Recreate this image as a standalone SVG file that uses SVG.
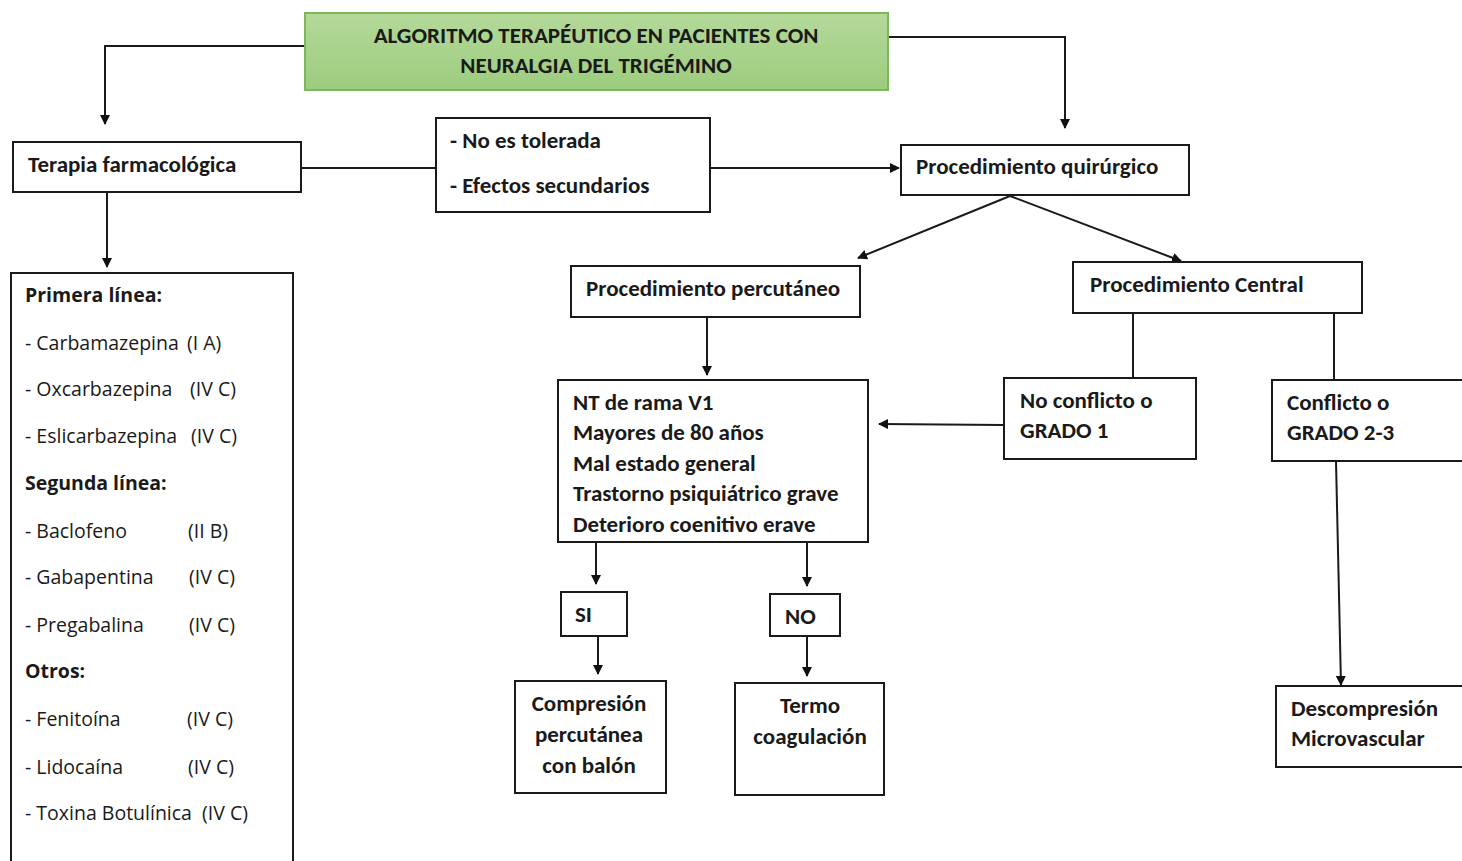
<svg xmlns="http://www.w3.org/2000/svg" width="1462" height="861" viewBox="0 0 1462 861">
<defs>
<linearGradient id="g" x1="0" y1="0" x2="0" y2="1">
<stop offset="0" stop-color="#b4d99a"/>
<stop offset="1" stop-color="#9ccc7e"/>
</linearGradient>
<marker id="a" viewBox="0 0 10 10" refX="9" refY="5" markerWidth="10" markerHeight="10" markerUnits="userSpaceOnUse" orient="auto">
<path d="M0,0 L10,5 L0,10 z" fill="#111"/>
</marker>
<style>
.b{fill:#fff;stroke:#1a1a1a;stroke-width:2}
.t{font-family:Carlito,"Liberation Sans Narrow","Liberation Sans",sans-serif;font-size:23px;font-weight:bold;fill:#1a1a1a}
.l{font-family:"Open Sans","DejaVu Sans",sans-serif;font-size:19.5px;fill:#1a1a1a}
.lb{font-weight:bold}
.c{fill:none;stroke:#1a1a1a;stroke-width:2}
</style>
</defs>
<rect width="1462" height="861" fill="#fff"/>
<g id="connectors">
<path class="c" d="M305,46 H105 V124" marker-end="url(#a)"/>
<path class="c" d="M888,37 H1065 V128" marker-end="url(#a)"/>
<path class="c" d="M301,168 H436"/>
<path class="c" d="M710,168 H899" marker-end="url(#a)"/>
<path class="c" d="M107,192 V267" marker-end="url(#a)"/>
<path class="c" d="M1010,196 L858,258" marker-end="url(#a)"/>
<path class="c" d="M1010,196 L1181,261" marker-end="url(#a)"/>
<path class="c" d="M707,317 V375" marker-end="url(#a)"/>
<path class="c" d="M1133,313 V378"/>
<path class="c" d="M1334,313 V380"/>
<path class="c" d="M1004,425 L879,424" marker-end="url(#a)"/>
<path class="c" d="M1336,461 L1341,685" marker-end="url(#a)"/>
<path class="c" d="M596,542 V584" marker-end="url(#a)"/>
<path class="c" d="M807,542 V586" marker-end="url(#a)"/>
<path class="c" d="M598,636 V674" marker-end="url(#a)"/>
<path class="c" d="M807,636 V676" marker-end="url(#a)"/>
</g>
<g id="title">
<rect x="305" y="13" width="583" height="77" fill="url(#g)" stroke="#7cb85a" stroke-width="2"/>
<text class="t" x="596" y="43" text-anchor="middle">ALGORITMO TERAPÉUTICO EN PACIENTES CON</text>
<text class="t" x="596" y="73" text-anchor="middle">NEURALGIA DEL TRIGÉMINO</text>
</g>
<g id="terapia">
<rect class="b" x="13" y="142" width="288" height="50"/>
<text class="t" x="28" y="172">Terapia farmacológica</text>
</g>
<g id="intolerancia">
<rect class="b" x="436" y="118" width="274" height="94"/>
<text class="t" x="450" y="148">- No es tolerada</text>
<text class="t" x="450" y="193">- Efectos secundarios</text>
</g>
<g id="quirurgico">
<rect class="b" x="901" y="145" width="288" height="50"/>
<text class="t" x="916" y="174">Procedimiento quirúrgico</text>
</g>
<g id="farmacos">
<path class="b" d="M11,862 V273 H293 V862"/>
<text class="l lb" x="25" y="302">Primera línea:</text>
<text class="l" x="25" y="350">- Carbamazepina<tspan x="187">(I A)</tspan></text>
<text class="l" x="25" y="396">- Oxcarbazepina<tspan x="190">(IV C)</tspan></text>
<text class="l" x="25" y="443">- Eslicarbazepina<tspan x="191">(IV C)</tspan></text>
<text class="l lb" x="25" y="490">Segunda línea:</text>
<text class="l" x="25" y="538">- Baclofeno<tspan x="188">(II B)</tspan></text>
<text class="l" x="25" y="584">- Gabapentina<tspan x="189">(IV C)</tspan></text>
<text class="l" x="25" y="632">- Pregabalina<tspan x="189">(IV C)</tspan></text>
<text class="l lb" x="25" y="678">Otros:</text>
<text class="l" x="25" y="726">- Fenitoína<tspan x="187">(IV C)</tspan></text>
<text class="l" x="25" y="774">- Lidocaína<tspan x="188">(IV C)</tspan></text>
<text class="l" x="25" y="820">- Toxina Botulínica<tspan x="202">(IV C)</tspan></text>
</g>
<g id="percutaneo">
<rect class="b" x="571" y="266" width="289" height="51"/>
<text class="t" x="586" y="296">Procedimiento percutáneo</text>
</g>
<g id="central">
<rect class="b" x="1073" y="262" width="289" height="51"/>
<text class="t" x="1090" y="292">Procedimiento Central</text>
</g>
<g id="criterios">
<rect class="b" x="558" y="380" width="310" height="162"/>
<text class="t" x="573" y="410">NT de rama V1</text>
<text class="t" x="573" y="440">Mayores de 80 años</text>
<text class="t" x="573" y="471">Mal estado general</text>
<text class="t" x="573" y="501">Trastorno psiquiátrico grave</text>
<text class="t" x="573" y="532">Deterioro coenitivo erave</text>
</g>
<g id="noconflicto">
<rect class="b" x="1004" y="378" width="192" height="81"/>
<text class="t" x="1020" y="408">No conflicto o</text>
<text class="t" x="1020" y="438">GRADO 1</text>
</g>
<g id="conflicto">
<rect class="b" x="1272" y="380" width="200" height="81"/>
<text class="t" x="1287" y="410">Conflicto o</text>
<text class="t" x="1287" y="440">GRADO 2-3</text>
</g>
<g id="si">
<rect class="b" x="561" y="592" width="66" height="44"/>
<text class="t" x="575" y="622">SI</text>
</g>
<g id="no">
<rect class="b" x="770" y="594" width="70" height="42"/>
<text class="t" x="785" y="624">NO</text>
</g>
<g id="compresion">
<rect class="b" x="515" y="681" width="151" height="112"/>
<text class="t" x="589" y="711" text-anchor="middle">Compresión</text>
<text class="t" x="589" y="742" text-anchor="middle">percutánea</text>
<text class="t" x="589" y="773" text-anchor="middle">con balón</text>
</g>
<g id="termo">
<rect class="b" x="735" y="683" width="149" height="112"/>
<text class="t" x="810" y="713" text-anchor="middle">Termo</text>
<text class="t" x="810" y="744" text-anchor="middle">coagulación</text>
</g>
<g id="descompresion">
<rect class="b" x="1276" y="686" width="196" height="81"/>
<text class="t" x="1291" y="716">Descompresión</text>
<text class="t" x="1291" y="746">Microvascular</text>
</g>
</svg>
